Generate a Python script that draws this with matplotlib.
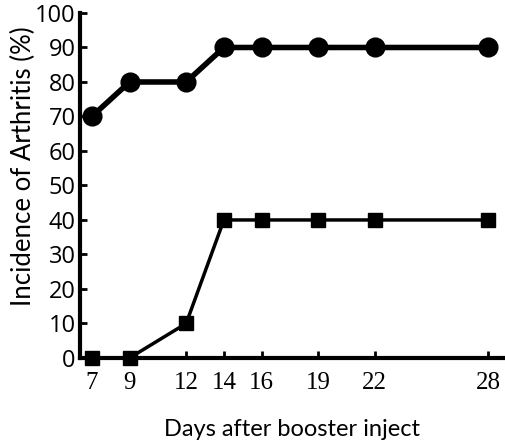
import matplotlib
matplotlib.use("Agg")
import matplotlib.pyplot as plt

days = [7, 9, 12, 14, 16, 19, 22, 28]
group_a = [70, 80, 80, 90, 90, 90, 90, 90]
group_b = [0, 0, 10, 40, 40, 40, 40, 40]
yticks = list(range(0, 101, 10))

fig = plt.figure(figsize=(5.06, 4.48), dpi=100)
ax = fig.add_axes([0.158, 0.201, 0.84, 0.77])

ax.plot(days, group_a, color='black', lw=4, marker='o', markersize=13.5, clip_on=False, zorder=3)
ax.plot(days, group_b, color='black', lw=2.5, marker='s', markersize=10, clip_on=False, zorder=3)

ax.set_xlim(6.37, 28.9)
ax.set_ylim(0, 100)
ax.set_xticks(days)
ax.set_xticklabels([str(d) for d in days], family='Liberation Serif', fontsize=18)
ax.set_yticks(yticks)
ax.set_yticklabels([str(v) for v in yticks], family='Open Sans', fontsize=17, fontweight='medium')

for s in ['top', 'right']:
    ax.spines[s].set_visible(False)
for s in ['left', 'bottom']:
    ax.spines[s].set_linewidth(3)
ax.tick_params(direction='in', length=5, width=2)
ax.tick_params(axis='y', pad=3)
ax.tick_params(axis='x', pad=10)

ax.set_ylabel('Incidence of Arthritis (%)', family='Lato', fontsize=18.5, va='center')
ax.yaxis.set_label_coords(-0.133, 0.557)
ax.set_xlabel('Days after booster inject', family='Lato', fontsize=17, labelpad=18)

fig.savefig('out.png', dpi=100)
